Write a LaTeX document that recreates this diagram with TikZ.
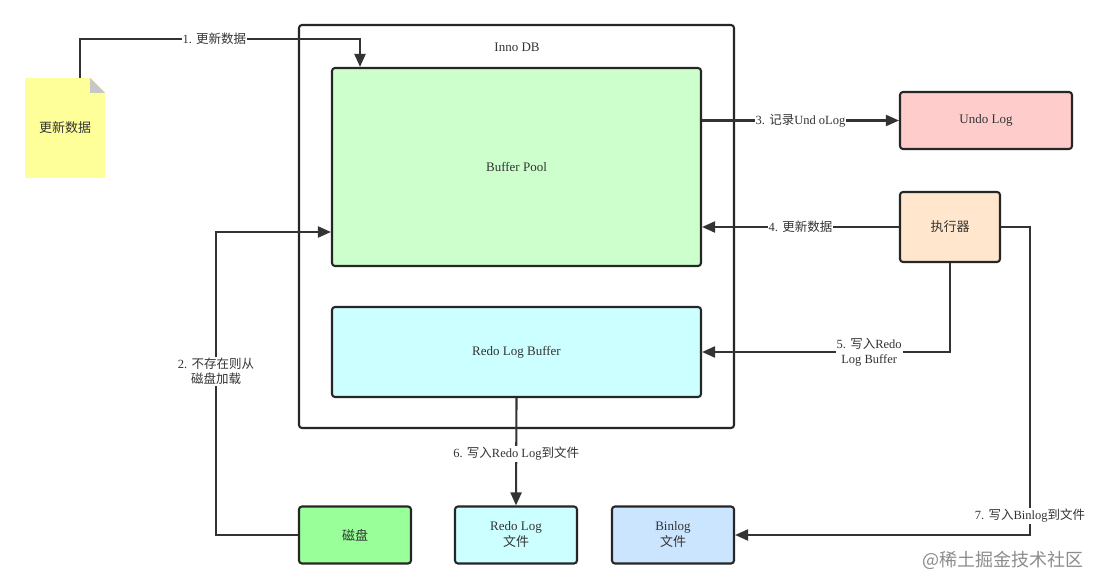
\documentclass[tikz,border=0pt]{standalone}
\usepackage{fontspec}
\setmainfont{Liberation Serif}
\newfontfamily\cjk{Noto Sans CJK SC}
\newcommand\zh[1]{{\cjk #1}}
\usetikzlibrary{arrows.meta}
\definecolor{bpgreen}{HTML}{CCFFCC}
\definecolor{cyanlt}{HTML}{CCFFFF}
\definecolor{undopink}{HTML}{FFCCCC}
\definecolor{execorange}{HTML}{FFE6CC}
\definecolor{diskgreen}{HTML}{99FF99}
\definecolor{binblue}{HTML}{CCE5FF}
\definecolor{noteyellow}{HTML}{FFFF99}
\definecolor{ink}{HTML}{333333}
\definecolor{edge}{HTML}{262626}
\begin{document}
\begin{tikzpicture}[x=1pt,y=-1pt,
  box/.style={draw=edge, line width=2.1pt, rounded corners=3pt, inner sep=0pt,
    text=ink, font=\fontsize{13}{16}\selectfont, align=center},
  conn/.style={draw=ink, line width=2.1pt, -{Triangle[length=13pt,width=11pt]}},
  lbl/.style={fill=white, inner sep=1pt, text=ink, font=\fontsize{12.5}{15.5}\selectfont, align=center},
  plaintext/.style={inner sep=0pt, text=ink, font=\fontsize{13}{16}\selectfont}]
\useasboundingbox (0,0) rectangle (1101,588);
\fill[white] (0,0) rectangle (1101,588);

% note
\node[fill=noteyellow, minimum width=80pt, minimum height=100pt, inner sep=0pt,
  text=ink, font=\fontsize{13}{16}\selectfont] (note) at (65,128) {\zh{更新数据}};
\fill[white] (90,77) -- (106,77) -- (106,93) -- cycle;
\fill[black!22] (90,78) -- (90,93) -- (105,93) -- cycle;

% containers and boxes
\node[box, minimum width=435pt, minimum height=403pt] (inno) at (516.5,226.5) {};
\node[plaintext] (innolbl) at (517,47) {Inno DB};
\node[box, fill=bpgreen, minimum width=369pt, minimum height=198pt] (bp) at (516.5,167) {Buffer Pool};
\node[box, fill=cyanlt, minimum width=369pt, minimum height=90pt] (rlb) at (516.5,352) {Redo Log Buffer};
\node[box, fill=undopink, minimum width=172pt, minimum height=57pt] (undo) at (986,120.5) {Undo Log};
\node[box, fill=execorange, minimum width=100pt, minimum height=70pt] (exec) at (950,227) {\zh{执行器}};
\node[box, fill=diskgreen, minimum width=112pt, minimum height=57pt] (disk) at (355,535) {\zh{磁盘}};
\node[box, fill=cyanlt, minimum width=122pt, minimum height=57pt] (rlf) at (516,535) {Redo Log\\\zh{文件}};
\node[box, fill=binblue, minimum width=122pt, minimum height=57pt] (binlog) at (673,535) {Binlog\\\zh{文件}};

% connectors
\draw[conn] (note.north -| 80,0) |- node[lbl,pos=0.74]{1. \zh{更新数据}} (360,39) -- (bp.north -| 360,0);
\draw[conn] (disk.west) -| node[lbl,pos=0.77]{2. \zh{不存在则从}\\\zh{磁盘加载}} (216,232) -- (bp.west |- 0,232);
\draw[conn] (bp.east |- undo.west) -- node[lbl]{3. \zh{记录}Und oLog} (undo.west);
\draw[conn] (exec.west) -- node[lbl]{4. \zh{更新数据}} (bp.east |- exec.west);
\draw[conn] (exec.south) |- node[lbl,pos=0.663]{5. \zh{写入}Redo\\Log Buffer} (rlb.east);
\draw[conn] (rlb.south) -- node[lbl,pos=0.52]{6. \zh{写入}Redo Log\zh{到文件}} (rlf.north);
\draw[conn] (exec.east) -| node[lbl,pos=0.969]{7. \zh{写入}Binlog\zh{到文件}} (1030,535) -- (binlog.east);

% watermark
\node[inner sep=0pt, text=black!45, font=\fontsize{18}{21}\selectfont] (wm) at (1003,560) {\zh{@稀土掘金技术社区}};
\end{tikzpicture}
\end{document}
